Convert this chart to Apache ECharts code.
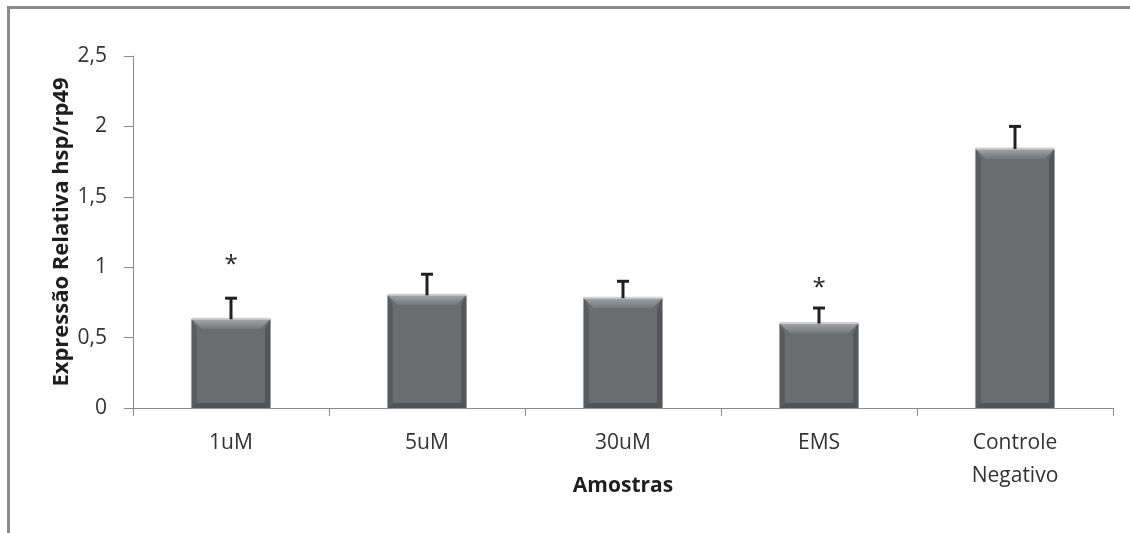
<!DOCTYPE html>
<html>
<head>
<meta charset="utf-8">
<script src="https://cdn.jsdelivr.net/npm/echarts@6/dist/echarts.min.js"></script>
<style>
  html, body { margin: 0; padding: 0; background: #ffffff; }
  #chart { width: 1130px; height: 533px; }
</style>
</head>
<body>
<div id="chart"></div>
<script>
// Relative hsp/rp49 expression per sample
const categories = ['1uM', '5uM', '30uM', 'EMS', 'Controle\nNegativo'];
const means = [0.63, 0.80, 0.78, 0.60, 1.84];
const errors = [0.15, 0.15, 0.12, 0.11, 0.16];
// Significance marks: value at which the asterisk is drawn (null = none)
const starAt = [1.05, null, null, 0.89, null];
const yTicks = [0, 0.5, 1, 1.5, 2, 2.5];

const FONT = '"Open Sans", "DejaVu Sans", sans-serif';
const chart = echarts.init(document.getElementById('chart'), null, { renderer: 'canvas' });

// Bevelled bar: flat body with lighter top bevel and darker sides / bottom
function renderBar(params, api) {
  const idx = api.value(0);
  const val = api.value(1);
  const top = api.coord([idx, val]);
  const base = api.coord([idx, 0]);
  const w = api.size([1, 0])[0] * 0.4;
  const x0 = top[0] - w / 2, x1 = top[0] + w / 2;
  const y0 = top[1], y1 = base[1];
  const bt = 10, bs = 5, bb = 5;
  return {
    type: 'group',
    children: [
      { type: 'rect', shape: { x: x0, y: y0, width: w, height: y1 - y0 },
        style: { fill: '#6b6c6f', stroke: '#9d9d9d', lineWidth: 1 } },
      { type: 'polygon', shape: { points: [[x0, y0], [x0 + bs, y0 + bt], [x0 + bs, y1 - bb], [x0, y1]] },
        style: { fill: '#5a5b5d' } },
      { type: 'polygon', shape: { points: [[x1, y0], [x1 - bs, y0 + bt], [x1 - bs, y1 - bb], [x1, y1]] },
        style: { fill: '#555658' } },
      { type: 'polygon', shape: { points: [[x0, y1], [x0 + bs, y1 - bb], [x1 - bs, y1 - bb], [x1, y1]] },
        style: { fill: '#525355' } },
      { type: 'polygon', shape: { points: [[x0, y0], [x1, y0], [x1 - bt, y0 + bt], [x0 + bt, y0 + bt]] },
        style: { fill: new echarts.graphic.LinearGradient(0, 0, 0, 1, [
          { offset: 0, color: '#a3a4a6' }, { offset: 1, color: '#747578' }]) } },
      { type: 'line', shape: { x1: x0, y1: y0 - 0.5, x2: x1, y2: y0 - 0.5 },
        style: { stroke: '#cfcfcf', lineWidth: 2 } }
    ]
  };
}

// Upper error whisker with cap
function renderError(params, api) {
  const idx = api.value(0);
  const lo = api.coord([idx, api.value(1)]);
  const hi = api.coord([idx, api.value(1) + api.value(2)]);
  const cap = 6;
  return {
    type: 'group',
    children: [
      { type: 'line', shape: { x1: lo[0], y1: lo[1], x2: hi[0], y2: hi[1] },
        style: { stroke: '#231f20', lineWidth: 3 } },
      { type: 'line', shape: { x1: hi[0] - cap, y1: hi[1], x2: hi[0] + cap, y2: hi[1] },
        style: { stroke: '#231f20', lineWidth: 3 } }
    ]
  };
}

function renderStar(params, api) {
  const p = api.coord([api.value(0), api.value(1)]);
  return {
    type: 'text',
    style: { text: '*', x: p[0], y: p[1] + 5, align: 'center', verticalAlign: 'middle',
             font: '24px ' + FONT, fill: '#222222' }
  };
}

const option = {
  animation: false,
  backgroundColor: '#ffffff',
  grid: { left: 133, right: 17, top: 56, bottom: 125 },
  graphic: [{
    type: 'polyline',
    shape: { points: [[8.5, 533], [8.5, 7.5], [1130, 7.5]] },
    style: { stroke: '#8a8a8a', lineWidth: 3, fill: null }
  }],
  xAxis: {
    type: 'category',
    data: categories,
    boundaryGap: true,
    name: 'Amostras',
    nameLocation: 'middle',
    nameGap: 68,
    nameMoveOverlap: false,
    nameTextStyle: { fontFamily: FONT, fontSize: 21, fontWeight: 'bold', color: '#1e1e1e' },
    axisLine: { lineStyle: { color: '#8c8c8c', width: 1 } },
    axisTick: { show: true, length: 8, lineStyle: { color: '#8c8c8c' } },
    axisLabel: { interval: 0, margin: 19, fontFamily: FONT, fontSize: 21, lineHeight: 33, color: '#333333' }
  },
  yAxis: {
    type: 'value',
    min: 0, max: 2.5, interval: 0.5,
    name: 'Expressão Relativa hsp/rp49',
    nameLocation: 'middle',
    nameRotate: 90,
    nameGap: 60,
    nameMoveOverlap: false,
    nameTextStyle: { fontFamily: FONT, fontSize: 22, fontWeight: 'bold', color: '#1e1e1e' },
    splitLine: { show: false },
    axisLine: { show: true, lineStyle: { color: '#8c8c8c', width: 1 } },
    axisTick: { show: true, length: 9, lineStyle: { color: '#8c8c8c' } },
    axisLabel: {
      margin: 26, fontFamily: FONT, fontSize: 21, color: '#333333',
      formatter: v => yTicks.includes(v) ? String(v).replace('.', ',') : ''
    }
  },
  series: [
    { type: 'custom', renderItem: renderBar, data: means.map((m, i) => [i, m]), z: 2 },
    { type: 'custom', renderItem: renderError, data: means.map((m, i) => [i, m, errors[i]]), z: 3 },
    { type: 'custom', renderItem: renderStar,
      data: starAt.map((s, i) => s == null ? null : [i, s]).filter(d => d), z: 4 }
  ]
};
chart.setOption(option);
</script>
</body>
</html>
